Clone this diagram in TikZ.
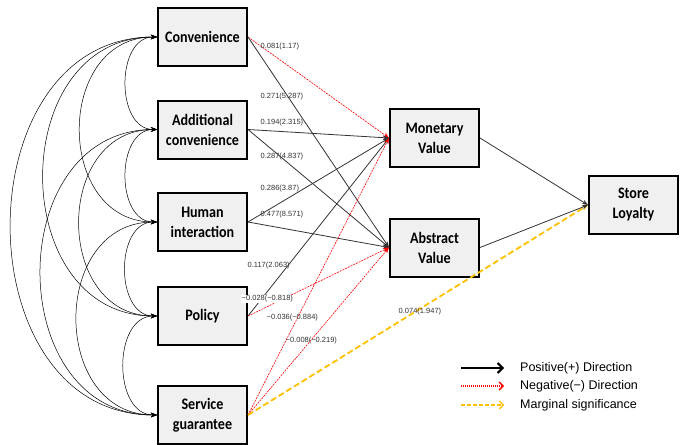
\documentclass[tikz,border=0pt]{standalone}
\usepackage{fontspec}
\setmainfont{Liberation Sans}
\newfontfamily\boxfont[FakeStretch=0.88]{Carlito}
\usepackage{xcolor}
\definecolor{boxgray}{RGB}{240,240,240}
\definecolor{margorange}{RGB}{255,192,0}
\definecolor{coefgray}{RGB}{50,50,50}
\usetikzlibrary{arrows.meta,positioning}
\newcommand{\drw}[3]{\draw[#3] (#1.east) -- (#2.west)}
\newcommand{\cov}[3]{\draw[covline] (#1.west) to[out=180,in=180,looseness=#3] (#2.west)}

\begin{document}
\begin{tikzpicture}[
      x=1pt,y=-1pt,
      >={Stealth[length=6pt,width=4.5pt]},
      node distance=92.5pt,
      factor/.style={rectangle,draw=black,line width=2pt,fill=boxgray,minimum width=89pt,minimum height=58pt,align=center,font=\boxfont\bfseries\fontsize{16}{20}\selectfont},
      posline/.style={->,line width=0.8pt,draw=black!80},
      negline/.style={->,red,line width=0.6pt,dash pattern=on 2pt off 1pt},
      margline/.style={->,margorange,line width=1.8pt,dash pattern=on 6pt off 3pt},
      covline/.style={<->,line width=0.5pt},
      coef/.style={anchor=west,font=\fontsize{7.5}{8}\selectfont,text=coefgray,inner sep=0.5pt},
      legtext/.style={anchor=west,font=\fontsize{12.5}{14}\selectfont,inner sep=0pt}]

      \useasboundingbox (0,0) rectangle (687,444);

      % Define nodes
      \node[factor] (conv) at (202.5,37) {Convenience};
      \node[factor,below of=conv] (addconv) {Additional\\convenience};
      \node[factor,below of=addconv] (human) {Human\\interaction};
      \node[factor,below of=human,node distance=94pt] (policy) {Policy};
      \node[factor,below of=policy,node distance=99pt] (service) {Service\\guarantee};
      \node[factor] (money) at (434.5,138) {Monetary\\Value};
      \node[factor,below of=money,node distance=109.5pt] (abstract) {Abstract\\Value};
      \node[factor] (loyal) at (633.5,205) {Store\\Loyalty};

      % Correlations
      \cov{conv}{addconv}{1.15};
      \cov{addconv}{human}{1.15};
      \cov{human}{policy}{1.15};
      \cov{policy}{service}{1.15};
      \cov{conv}{human}{1.42};
      \cov{addconv}{policy}{1.42};
      \cov{human}{service}{1.42};
      \cov{conv}{policy}{1.39};
      \cov{addconv}{service}{1.39};
      \cov{conv}{service}{1.32};

      % Draw paths
      \drw{conv}{money}{negline};
      \drw{conv}{abstract}{posline};
      \drw{addconv}{money}{posline};
      \drw{addconv}{abstract}{posline};
      \drw{human}{money}{posline};
      \drw{human}{abstract}{posline};
      \drw{policy}{money}{posline};
      \drw{policy}{abstract}{negline};
      \drw{service}{money}{negline};
      \drw{service}{abstract}{negline};
      \drw{service}{loyal}{margline};
      \drw{money}{loyal}{posline};
      \drw{abstract}{loyal}{posline};

      % Coefficients
      \node[coef] (c1) at (260,47) {0.081(1.17)};
      \node[coef] (c2) at (260,97) {0.271(5.287)};
      \node[coef] (c3) at (260,123) {0.194(2.315)};
      \node[coef] (c4) at (260,157) {0.287(4.837)};
      \node[coef] (c5) at (260,189) {0.286(3.87)};
      \node[coef] (c6) at (260,215) {0.477(8.571)};
      \node[coef] (c7) at (247,266) {0.117(2.063)};
      \node[coef,fill=white] (c8) at (241,299) {−0.028(−0.818)};
      \node[coef] (c9) at (266,318) {−0.036(−0.884)};
      \node[coef] (c10) at (285,341) {−0.008(−0.219)};
      \node[coef] (c11) at (398,312) {0.074(1.947)};

      % Legend
      \coordinate (la1) at (461,368);
      \coordinate (lb1) at (504,368);
      \coordinate (la2) at (461,386);
      \coordinate (lb2) at (504,386);
      \coordinate (la3) at (461,405);
      \coordinate (lb3) at (504,405);
      \draw[-{Straight Barb[length=5pt,width=10pt,line width=2pt]},line width=2.4pt] (la1) -- (lb1);
      \draw[-{Straight Barb[length=4pt,width=8pt]},red,line width=1.4pt,dash pattern=on 1pt off 1pt] (la2) -- (lb2);
      \draw[-{Straight Barb[length=4pt,width=8pt]},margorange,line width=1.2pt,dash pattern=on 4pt off 2pt] (la3) -- (lb3);
      \node[legtext] (lt1) at (520,368) {Positive(+) Direction};
      \node[legtext] (lt2) at (520,386) {Negative(−) Direction};
      \node[legtext] (lt3) at (520,405) {Marginal significance};

\end{tikzpicture}
\end{document}
